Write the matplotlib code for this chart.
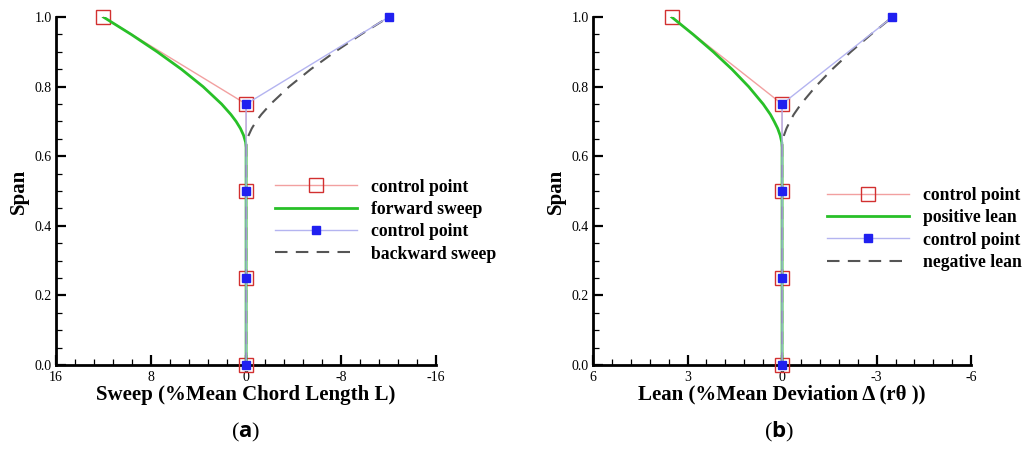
import matplotlib
matplotlib.use("Agg")
import matplotlib.pyplot as plt
from matplotlib.ticker import MultipleLocator

plt.rcParams["font.family"] = "Liberation Serif"
plt.rcParams["mathtext.fontset"] = "custom"
plt.rcParams["mathtext.rm"] = "Open Sans"
plt.rcParams["mathtext.bf"] = "Open Sans:bold"

# control points (span positions shared by both panels)
ctrl_span = [0.0, 0.25, 0.5, 0.75, 1.0]
sweep_ctrl_fwd = [0, 0, 0, 0, 12]
sweep_ctrl_bwd = [0, 0, 0, 0, -12]
lean_ctrl_pos = [0, 0, 0, 0, 3.5]
lean_ctrl_neg = [0, 0, 0, 0, -3.5]

# curves
curve_span = [0.0, 0.625, 0.64, 0.66, 0.68, 0.70, 0.72, 0.75, 0.80, 0.85, 0.90, 0.95, 1.0]
sweep_fwd = [0, 0, 0.04, 0.21, 0.48, 0.84, 1.28, 2.06, 3.62, 5.44, 7.47, 9.66, 12]
sweep_bwd = [0, 0, -0.04, -0.21, -0.48, -0.84, -1.28, -2.06, -3.62, -5.44, -7.47, -9.66, -12]
lean_pos = [0, 0, 0.01, 0.06, 0.14, 0.25, 0.37, 0.60, 1.06, 1.59, 2.18, 2.82, 3.5]
lean_neg = [0, 0, -0.01, -0.06, -0.14, -0.25, -0.37, -0.60, -1.06, -1.59, -2.18, -2.82, -3.5]

RED_LINE = "#f2a0a0"
RED_EDGE = "#d23030"
BLUE_LINE = "#b4b4f0"
BLUE = "#2020f0"
GREEN = "#28c028"
GREY = "#555555"


def draw_panel(ax, ctrl_a, curve_a, ctrl_b, curve_b, labels, xlim, major, minor,
               xlabel, legend_anchor):
    h1, = ax.plot(ctrl_a, ctrl_span, color=RED_LINE, lw=1.0, marker="s", ms=9.5,
                  mfc="none", mec=RED_EDGE, mew=1.0, clip_on=False, zorder=3)
    h2, = ax.plot(curve_a, curve_span, color=GREEN, lw=2.0, zorder=4)
    h3, = ax.plot(ctrl_b, ctrl_span, color=BLUE_LINE, lw=1.0, marker="s", ms=6,
                  mfc=BLUE, mec=BLUE, clip_on=False, zorder=6)
    h4, = ax.plot(curve_b, curve_span, color=GREY, lw=1.5, ls=(0, (6, 4)), zorder=5)

    ax.set_xlim(*xlim)
    ax.set_ylim(0, 1)
    ax.xaxis.set_major_locator(MultipleLocator(major))
    ax.xaxis.set_minor_locator(MultipleLocator(minor))
    ax.yaxis.set_major_locator(MultipleLocator(0.2))
    ax.yaxis.set_minor_locator(MultipleLocator(0.05))
    ax.xaxis.set_major_formatter(plt.FuncFormatter(lambda v, p: f"{v:g}"))
    ax.yaxis.set_major_formatter(plt.FuncFormatter(lambda v, p: f"{v:.1f}"))

    for s in ("top", "right"):
        ax.spines[s].set_visible(False)
    for s in ("left", "bottom"):
        ax.spines[s].set_linewidth(2.0)
    ax.tick_params(which="major", direction="in", length=7, width=1.6,
                   labelsize=10, pad=3)
    ax.tick_params(axis="x", which="major", pad=4)
    ax.tick_params(which="minor", direction="in", length=4, width=0.9)

    ax.set_xlabel(xlabel, fontsize=15, fontweight="bold", labelpad=1)
    ax.set_ylabel("Span", fontsize=15, fontweight="bold", labelpad=4)

    ax.legend([h1, h2, h3, h4], labels, loc="center left",
              bbox_to_anchor=legend_anchor, frameon=False,
              prop={"weight": "bold", "size": 12.7}, handlelength=4.65,
              handletextpad=0.8, labelspacing=0.3, borderpad=0, borderaxespad=0)


fig = plt.figure(figsize=(10.25, 4.5), dpi=100)
ax1 = fig.add_axes([0.0546, 0.189, 0.371, 0.773])
ax2 = fig.add_axes([0.5785, 0.189, 0.369, 0.773])

draw_panel(ax1, sweep_ctrl_fwd, sweep_fwd, sweep_ctrl_bwd, sweep_bwd,
           ["control point", "forward sweep", "control point", "backward sweep"],
           (16, -16), 8, 1.6, "Sweep (%Mean Chord Length L)", (0.576, 0.415))
draw_panel(ax2, lean_ctrl_pos, lean_pos, lean_ctrl_neg, lean_neg,
           ["control point", "positive lean", "control point", "negative lean"],
           (6, -6), 3, 0.6, "Lean (%Mean Deviation \u0394 (r\u03b8 ))", (0.619, 0.391))

fig.text(0.2395, 0.04, r"($\mathbf{a}$)", ha="center", va="center", fontsize=16)
fig.text(0.760, 0.04, r"($\mathbf{b}$)", ha="center", va="center", fontsize=16)

fig.savefig("out.png", dpi=100)
